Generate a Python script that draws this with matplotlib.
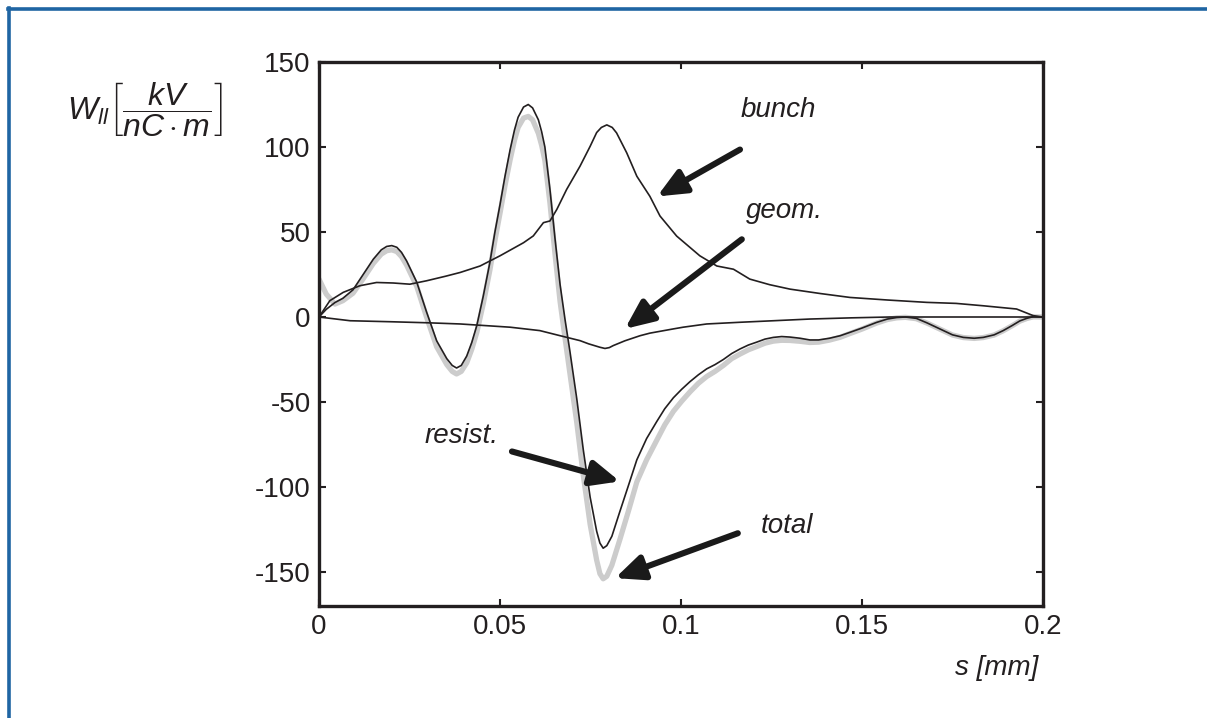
import matplotlib
matplotlib.use("Agg")
import matplotlib.pyplot as plt
from matplotlib.lines import Line2D

plt.rcParams['font.family'] = ['Liberation Sans', 'DejaVu Sans']
plt.rcParams['mathtext.fontset'] = 'custom'
plt.rcParams['mathtext.rm'] = 'Liberation Sans'
plt.rcParams['mathtext.it'] = 'Liberation Sans:italic'
plt.rcParams['mathtext.bf'] = 'Liberation Sans:bold'

# ---- data (s in mm, W in kV/(nC m)) ----
resist_s = [0.0, 0.002, 0.0044, 0.0066, 0.0094, 0.0122, 0.015, 0.0172, 0.0187, 0.0201,
            0.0215, 0.0228, 0.0242, 0.027, 0.0297, 0.0325, 0.0353, 0.0368, 0.038, 0.0393,
            0.0408, 0.0422, 0.0436, 0.0454, 0.0472, 0.0486, 0.05, 0.0514, 0.0528, 0.054,
            0.055, 0.0565, 0.0578, 0.059, 0.0606, 0.0615, 0.0624, 0.0638, 0.0652, 0.0666,
            0.068, 0.0693, 0.0712, 0.073, 0.0749, 0.0767, 0.0776, 0.0785, 0.0795, 0.0809,
            0.0831, 0.0855, 0.0878, 0.0905, 0.0933, 0.0955, 0.0979, 0.1002, 0.1025, 0.1048,
            0.1071, 0.1094, 0.1117, 0.114, 0.1163, 0.1186, 0.1209, 0.1232, 0.1255, 0.1278,
            0.1301, 0.1329, 0.1356, 0.138, 0.141, 0.144, 0.1467, 0.150, 0.154, 0.157,
            0.1596, 0.162, 0.165, 0.168, 0.1715, 0.175, 0.178, 0.181, 0.1835, 0.1865,
            0.189, 0.1915, 0.1936, 0.1955, 0.1973, 0.2]
resist_w = [0.0, 4.5, 8.5, 11.0, 16.0, 25.0, 34.0, 39.5, 41.5, 42.0,
            41.0, 38.0, 33.0, 20.5, 3.0, -14.0, -24.5, -28.5, -30.0, -28.5,
            -23.0, -15.0, -5.0, 12.5, 32.0, 50.0, 66.0, 83.0, 98.5, 110.0,
            117.5, 123.5, 125.0, 123.0, 116.0, 109.0, 100.0, 75.0, 46.0, 19.0,
            -2.0, -20.0, -48.0, -78.0, -106.0, -126.0, -133.0, -136.0, -134.5, -129.0,
            -114.5, -99.0, -84.0, -71.5, -61.5, -54.0, -47.5, -42.5, -38.0, -34.0,
            -30.5, -28.0, -25.0, -21.5, -18.8, -16.5, -14.8, -13.0, -12.0, -11.5,
            -11.8, -12.5, -13.5, -13.5, -12.5, -11.0, -9.0, -6.5, -3.2, -1.2,
            -0.3, 0.0, -0.8, -3.5, -7.0, -10.5, -12.0, -12.5, -12.0, -10.5,
            -8.0, -5.0, -2.3, -0.8, 0.2, 0.0]

total_s = resist_s
total_w = [22.3, 13.5, 7.6, 9.6, 14.0, 22.5, 31.5, 37.0, 39.0, 39.5,
           38.5, 35.5, 30.5, 18.0, 0.0, -17.5, -28.0, -32.0, -33.5, -32.0,
           -27.0, -19.0, -9.0, 8.0, 27.5, 45.0, 61.0, 77.5, 92.5, 104.0,
           111.5, 117.0, 118.0, 116.0, 108.0, 101.0, 92.0, 67.0, 37.0, 9.0,
           -13.0, -33.0, -62.0, -93.0, -122.0, -143.0, -151.0, -154.0, -152.5, -146.0,
           -131.0, -114.0, -97.0, -84.0, -72.5, -63.5, -55.5, -49.5, -44.0, -39.0,
           -35.0, -32.0, -28.5, -24.5, -21.8, -19.3, -17.4, -15.4, -14.2, -13.7,
           -13.8, -14.3, -15.0, -14.8, -13.6, -11.9, -9.7, -7.1, -3.6, -1.5,
           -0.5, -0.2, -1.0, -3.6, -7.1, -10.6, -12.1, -12.6, -12.1, -10.6,
           -8.1, -5.1, -2.4, -0.9, 0.1, 0.0]

bunch_s = [0.0, 0.003, 0.0067, 0.0113, 0.0159, 0.0205, 0.0251, 0.0297, 0.035, 0.039,
           0.0445, 0.05, 0.0565, 0.0592, 0.062, 0.0638, 0.0657, 0.0684, 0.0721, 0.0749,
           0.0767, 0.078, 0.0795, 0.081, 0.0822, 0.085, 0.0878, 0.0914, 0.0942, 0.0988,
           0.1052, 0.1099, 0.1145, 0.119, 0.1245, 0.1301, 0.1385, 0.1467, 0.1570, 0.1679,
           0.1760, 0.1835, 0.1927, 0.1973, 0.2]
bunch_w = [0.0, 9.6, 14.5, 18.4, 20.3, 20.0, 19.3, 21.3, 24.0, 26.2,
           30.0, 36.0, 43.7, 47.7, 55.5, 56.5, 63.3, 75.0, 88.7, 100.4,
           108.5, 111.5, 113.0, 111.5, 108.3, 96.6, 82.8, 71.0, 59.4, 47.6,
           36.0, 30.0, 28.1, 22.3, 19.0, 16.4, 13.8, 11.5, 10.0, 8.6,
           8.0, 6.6, 4.7, 0.8, 0.0]

geom_s = [0.0, 0.0086, 0.02, 0.03, 0.039, 0.0528, 0.061, 0.0666, 0.0721, 0.0745,
          0.0776, 0.079, 0.0802, 0.0813, 0.0845, 0.0887, 0.0914, 0.0979, 0.1006, 0.1071,
          0.1163, 0.1255, 0.1356, 0.1470, 0.1577, 0.2]
geom_w = [0.0, -2.2, -2.8, -3.4, -4.1, -6.0, -8.0, -11.0, -13.9, -15.8,
          -17.8, -18.5, -18.0, -16.8, -14.0, -11.0, -9.5, -7.0, -6.0, -4.1,
          -3.1, -2.2, -1.2, -0.5, 0.0, 0.0]

xticks = [0, 0.05, 0.1, 0.15, 0.2]
xtick_labels = ['0', '0.05', '0.1', '0.15', '0.2']
yticks = [-150, -100, -50, 0, 50, 100, 150]
ytick_labels = ['-150', '-100', '-50', '0', '50', '100', '150']

# annotations: label, text position, arrow tail, arrow head (data coords)
ann_labels = ['bunch', 'geom.', 'resist.', 'total']
ann_text_xy = [(0.1268, 121.9), (0.1287, 62.1), (0.0395, -69.8), (0.1293, -123.0)]
ann_tail_xy = [(0.1163, 98.5), (0.1168, 45.7), (0.0533, -79.1), (0.1157, -127.2)]
ann_head_xy = [(0.0934, 70.9), (0.0845, -7.0), (0.0831, -96.7), (0.0818, -153.6)]

# ---- figure ----
W, H = 1207, 718
fig = plt.figure(figsize=(W / 100, H / 100), dpi=100)
ax = fig.add_axes([319 / W, 1 - 606 / H, (1043 - 319) / W, (606 - 62) / H])

ink = '#231f20'
ax.plot(total_s, total_w, color='#cccccc', lw=3.8, solid_capstyle='round',
        solid_joinstyle='round', zorder=2)
ax.plot(resist_s, resist_w, color=ink, lw=1.2, zorder=3)
ax.plot(bunch_s, bunch_w, color=ink, lw=1.2, zorder=3)
ax.plot(geom_s, geom_w, color=ink, lw=1.2, zorder=3)

ax.set_xlim(0, 0.2)
ax.set_ylim(-170, 150)
ax.set_xticks(xticks)
ax.set_xticklabels(xtick_labels)
ax.set_yticks(yticks)
ax.set_yticklabels(ytick_labels)
ax.tick_params(direction='in', length=5, width=1.5, color=ink, labelsize=20,
               labelcolor=ink, top=True, right=True, pad=6)
for sp in ax.spines.values():
    sp.set_linewidth(2.4)
    sp.set_color(ink)

for lab, txy, tail, head in zip(ann_labels, ann_text_xy, ann_tail_xy, ann_head_xy):
    ax.text(txy[0], txy[1], lab, fontsize=20, style='italic', color=ink,
            ha='center', va='center')
    ax.annotate('', xy=head, xytext=tail,
                arrowprops=dict(arrowstyle='-|>,head_length=0.95,head_width=0.42',
                                lw=4.4, color='#1a1a1a', mutation_scale=18,
                                shrinkA=0, shrinkB=0))

# axis labels
fig.text(145 / W, 1 - 110 / H,
         r'$W_{ll}\left[\dfrac{kV}{nC\cdot m}\right]$',
         fontsize=23, color=ink, ha='center', va='center')
fig.text(997 / W, 1 - 668 / H, 's [mm]', fontsize=20, style='italic',
         color=ink, ha='center', va='center')

# blue frame (top and left)
blue = '#1f65a3'
fig.add_artist(Line2D([8 / W, 1.0], [1 - 9 / H, 1 - 9 / H], transform=fig.transFigure,
                      color=blue, lw=2.6))
fig.add_artist(Line2D([8.5 / W, 8.5 / W], [0.0, 1 - 8 / H], transform=fig.transFigure,
                      color=blue, lw=2.6))

fig.savefig('out.png', dpi=100, facecolor='white')
